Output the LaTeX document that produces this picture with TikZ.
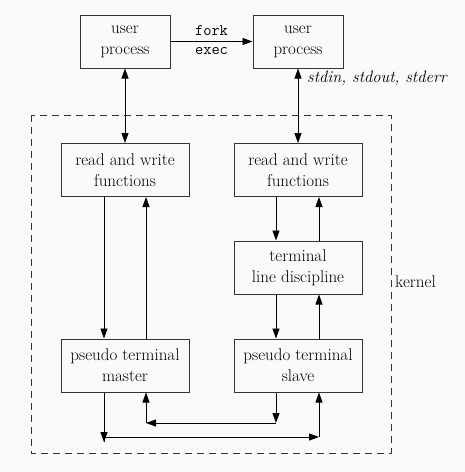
\documentclass[tikz,border=0pt]{standalone}
\usepackage{fontspec}
\usetikzlibrary{arrows.meta}
\definecolor{bg}{HTML}{FAFAFA}
\definecolor{ln}{HTML}{333333}
\begin{document}
\begin{tikzpicture}[x=1pt,y=-1pt,
  box/.style={draw=ln,line width=1pt,minimum width=128pt,minimum height=53pt,align=center,inner sep=0pt,font=\fontsize{17}{21}\selectfont},
  ubox/.style={box,minimum width=90pt},
  arr/.style={draw=black,line width=0.9pt,-{Triangle[length=10pt,width=7pt]}},
  darr/.style={draw=black,line width=0.9pt,{Triangle[length=10pt,width=7pt]}-{Triangle[length=10pt,width=7pt]}}]
\fill[bg] (0,0) rectangle (465,472);
\useasboundingbox (0,0) rectangle (465,472);
\draw[ln,line width=0.9pt,dash pattern=on 7pt off 5pt] (31,115) rectangle (391,453);
\node[ubox] (upL) at (125,41.5) {user\\process};
\node[ubox] (upR) at (298,41.5) {user\\process};
\node[box] (rwL) at (125,170) {read and write\\functions};
\node[box] (rwR) at (298,170) {read and write\\functions};
\node[box] (tld) at (298,267.5) {terminal\\line discipline};
\node[box] (ptm) at (125,365.5) {pseudo terminal\\master};
\node[box] (pts) at (298,365.5) {pseudo terminal\\slave};
\node[anchor=west,inner sep=0pt,font=\fontsize{17}{20}\selectfont] (kern) at (395,282) {kernel};
\node[anchor=west,inner sep=0pt,font=\fontsize{16.5}{18}\itshape] (std) at (307,78) {stdin, stdout, stderr};
\draw[arr] (upL.east) -- (upR.west)
  node[midway,above=2pt,font=\fontsize{16}{18}\ttfamily] (fk) {fork}
  node[midway,below=2pt,font=\fontsize{16}{18}\ttfamily] (ex) {exec};
\draw[darr] (upL.south) -- (rwL.north);
\draw[darr] (upR.south) -- (rwR.north);
\draw[arr] ([xshift=-21pt]rwL.south) -- ([xshift=-21pt]ptm.north);
\draw[arr] ([xshift=21pt]ptm.north) -- ([xshift=21pt]rwL.south);
\draw[arr] ([xshift=-22pt]rwR.south) -- ([xshift=-22pt]tld.north);
\draw[arr] ([xshift=21pt]tld.north) -- ([xshift=21pt]rwR.south);
\draw[arr] ([xshift=-22pt]tld.south) -- ([xshift=-22pt]pts.north);
\draw[arr] ([xshift=21pt]pts.north) -- ([xshift=21pt]tld.south);
\coordinate (a1) at (104,437);
\coordinate (a2) at (319,437);
\coordinate (b1) at (276,423);
\coordinate (b2) at (146,423);
\draw[arr] ([xshift=-21pt]ptm.south) -- ([yshift=-5pt]a1);
\draw[line width=0.9pt] ([yshift=-5pt]a1) -- (a1);
\draw[arr] (a1) -- (a2);
\draw[arr] (a2) -- ([xshift=21pt]pts.south);
\draw[arr] ([xshift=-22pt]pts.south) -- (b1);
\draw[arr] (b1) -- (b2);
\draw[arr] (b2) -- ([xshift=21pt]ptm.south);
\end{tikzpicture}
\end{document}
